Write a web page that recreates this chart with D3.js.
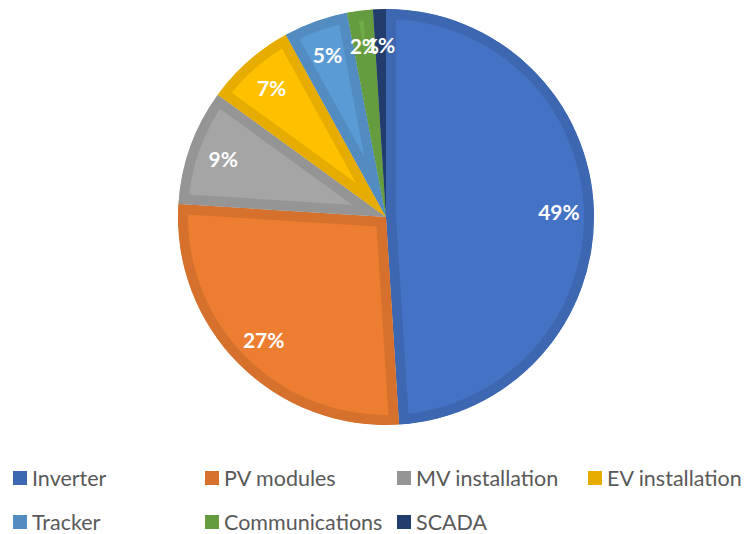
<!DOCTYPE html>
<html>
<head>
<meta charset="utf-8">
<script src="https://cdn.jsdelivr.net/npm/d3@7"></script>
<style>
html,body{margin:0;padding:0;background:#fff;}
svg{display:block;}
</style>
</head>
<body>
<svg id="chart" width="745" height="534"></svg>
<script>
const categories = ["Inverter","PV modules","MV installation","EV installation","Tracker","Communications","SCADA"];
const values = [49, 27, 9, 7, 5, 2, 1];
const labels = ["49%","27%","9%","7%","5%","2%","1%"];
const fillColors = ["#4472C4","#ED7D31","#A5A5A5","#FFC000","#5B9BD5","#70AD47","#264478"];

const W = 745, H = 534;
const cx = 386, cy = 217, R = 208, labelR = 173, band = 10;
const svg = d3.select("#chart");

function darker(c){ const r = d3.rgb(c); return d3.rgb(r.r*0.9, r.g*0.9, r.b*0.9).formatHex(); }
const borderColors = fillColors.map(darker);
const color = d3.scaleOrdinal().domain(categories).range(fillColors);
const bcolor = d3.scaleOrdinal().domain(categories).range(borderColors);

const data = categories.map((c,i)=>({cat:c, value:values[i], label:labels[i]}));
const pie = d3.pie().value(d=>d.value).sort(null);
const arcs = pie(data);
const arc = d3.arc().innerRadius(0).outerRadius(R);
const labelArc = d3.arc().innerRadius(labelR).outerRadius(labelR);

const g = svg.append("g").attr("transform", `translate(${cx},${cy})`);
const defs = svg.append("defs");

arcs.forEach((a,i)=>{
  defs.append("clipPath").attr("id","clip"+i)
    .append("path").attr("d", arc(a));
});

g.selectAll("path.slice").data(arcs).join("path")
  .attr("class","slice")
  .attr("d", arc)
  .attr("fill", d=>color(d.data.cat))
  .attr("stroke", d=>bcolor(d.data.cat))
  .attr("stroke-width", band*2)
  .attr("stroke-linejoin","miter")
  .attr("clip-path", (d,i)=>`url(#clip${i})`);

g.selectAll("text.lbl").data(arcs).join("text")
  .attr("class","lbl")
  .attr("transform", d=>`translate(${labelArc.centroid(d)})`)
  .attr("text-anchor","middle")
  .attr("dominant-baseline","central")
  .attr("fill","#fff")
  .attr("font-family","Lato, 'Open Sans', sans-serif")
  .attr("font-weight","bold")
  .attr("font-size", 21)
  .text(d=>d.data.label);

// legend
const legX = d3.scaleOrdinal().domain([0,1,2,3]).range([13, 205, 397, 588]);
const legY = d3.scaleOrdinal().domain([0,1]).range([478, 522]);
const leg = svg.append("g");
const items = leg.selectAll("g.item").data(categories).join("g")
  .attr("class","item")
  .attr("transform",(d,i)=>`translate(${legX(i%4)},${legY(Math.floor(i/4))})`);
items.append("rect").attr("x",0).attr("y",-7).attr("width",14).attr("height",14)
  .attr("fill", d=>bcolor(d));
items.append("text").attr("x",19).attr("y",0)
  .attr("dominant-baseline","central")
  .attr("fill","#595959")
  .attr("font-family","Lato, 'Open Sans', sans-serif")
  .attr("font-size",21.5)
  .text(d=>d);
</script>
</body>
</html>
